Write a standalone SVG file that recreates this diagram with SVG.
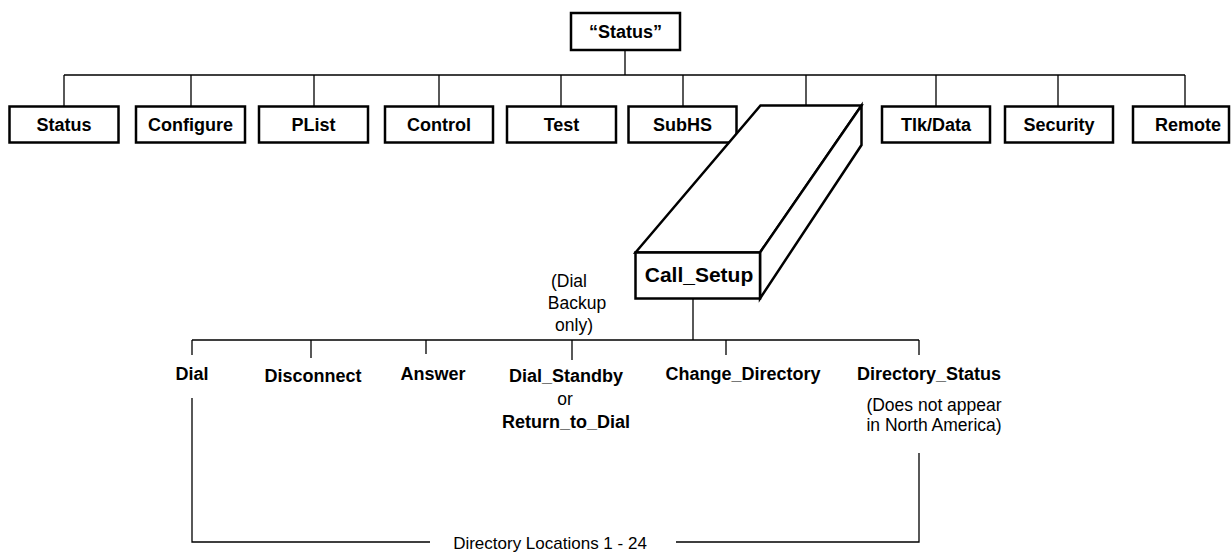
<svg xmlns="http://www.w3.org/2000/svg" width="1231" height="552" viewBox="0 0 1231 552">
<style>
.box{fill:#fff;stroke:#000;stroke-width:2.5}
.ln{fill:none;stroke:#000;stroke-width:1.3}
.b{font-family:"Liberation Sans",Arial,sans-serif;font-weight:bold;font-size:18px;fill:#000;text-anchor:middle}
.r{font-family:"Liberation Sans",Arial,sans-serif;font-size:17.5px;fill:#000;text-anchor:middle}
</style>
<rect width="1231" height="552" fill="#fff"/>
<g id="connectors">
<path class="ln" d="M625,50V75M64,75H1185M64,75V106M191,75V106M314,75V106M439,75V106M561,75V106M683,75V106M806,75V106M936,75V106M1058,75V106M1185,75V106"/>
<path class="ln" d="M693,298V340M192,340H919M192,340V355M311,340V358M426,340V354M572,340V360M726,340V355M919,340V355"/>
<path class="ln" d="M192,398V542H430M676,542H919V453"/>
</g>
<g id="n-root"><rect class="box" x="571" y="13" width="109" height="37"/><text class="b" x="625.5" y="38">“Status”</text></g>
<g id="n-status"><rect class="box" x="9.5" y="106.5" width="109" height="36"/><text class="b" x="64" y="131">Status</text></g>
<g id="n-configure"><rect class="box" x="136" y="106.5" width="109" height="36"/><text class="b" x="190.5" y="131">Configure</text></g>
<g id="n-plist"><rect class="box" x="259" y="106.5" width="109" height="36"/><text class="b" x="313.5" y="131">PList</text></g>
<g id="n-control"><rect class="box" x="385" y="106.5" width="108" height="36"/><text class="b" x="439" y="131">Control</text></g>
<g id="n-test"><rect class="box" x="507" y="106.5" width="109" height="36"/><text class="b" x="561.5" y="131">Test</text></g>
<g id="n-subhs"><rect class="box" x="628.5" y="106.5" width="108" height="36"/><text class="b" x="682.5" y="131">SubHS</text></g>
<g id="n-tlkdata"><rect class="box" x="882" y="106.5" width="108" height="36"/><text class="b" x="936" y="131">Tlk/Data</text></g>
<g id="n-security"><rect class="box" x="1005" y="106.5" width="108" height="36"/><text class="b" x="1059" y="131">Security</text></g>
<g id="n-remote"><rect class="box" x="1133" y="106.5" width="96" height="36"/><text class="b" x="1188" y="131">Remote</text></g>
<g id="n-callsetup">
<polygon class="box" points="635.5,252.5 760.5,105.5 861.5,105.5 760,252.5"/>
<polygon class="box" points="760,252.5 861.5,105.5 861.5,145 760,298.5"/>
<rect class="box" x="635.5" y="252.5" width="124.5" height="46"/>
<text class="b" style="font-size:21px" x="699" y="282">Call_Setup</text>
</g>
<g id="n-dialbackup-note"><text class="r" x="569" y="287">(Dial</text><text class="r" x="577" y="309">Backup</text><text class="r" x="574" y="331">only)</text></g>
<g id="n-dial"><text class="b" x="192" y="380">Dial</text></g>
<g id="n-disconnect"><text class="b" x="313" y="381.5">Disconnect</text></g>
<g id="n-answer"><text class="b" x="433" y="380">Answer</text></g>
<g id="n-dialstandby"><text class="b" x="566" y="381.5">Dial_Standby</text><text class="r" x="565" y="405">or</text><text class="b" x="566" y="428">Return_to_Dial</text></g>
<g id="n-changedir"><text class="b" x="743" y="380">Change_Directory</text></g>
<g id="n-dirstatus"><text class="b" x="929" y="380">Directory_Status</text><text class="r" x="934" y="411">(Does not appear</text><text class="r" x="934" y="431">in North America)</text></g>
<g id="n-dirlocs"><text class="r" x="550" y="549" style="font-size:17px">Directory Locations 1 - 24</text></g>
</svg>
